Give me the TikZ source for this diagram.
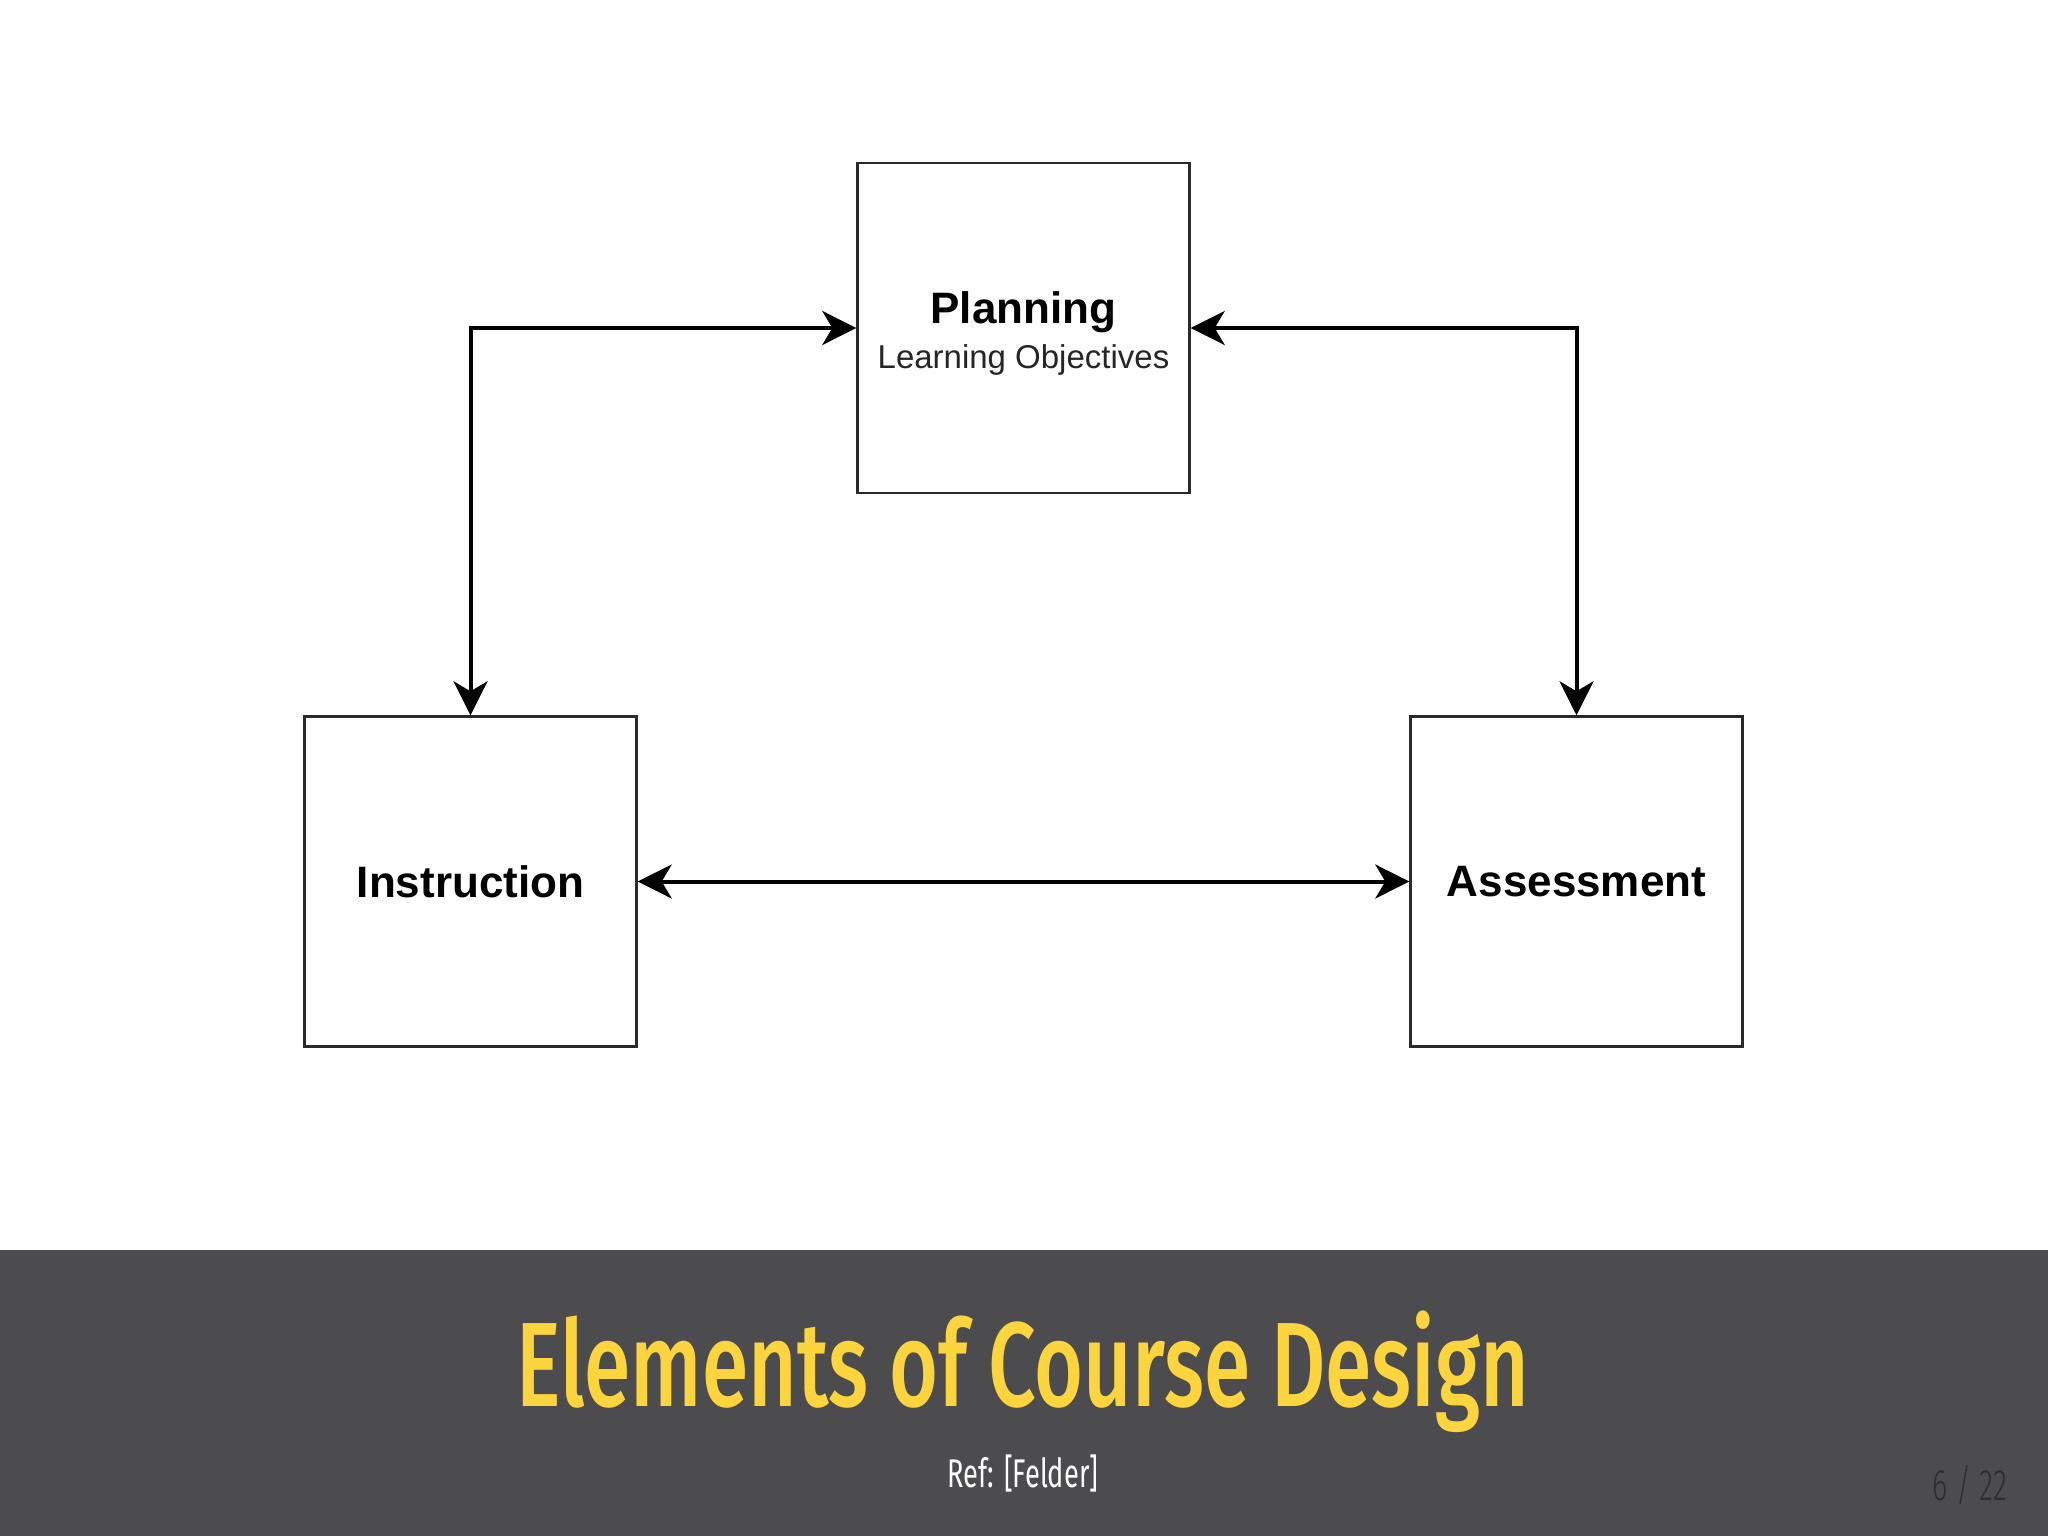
\documentclass[tikz,border=0pt]{standalone}
\usepackage{fontspec}
\setmainfont{Liberation Sans}
\newfontfamily\titlefont[FakeStretch=0.70]{Fira Sans Medium}
\newfontfamily\reffont[FakeStretch=0.68]{Fira Sans}
\newfontfamily\pagefont[FakeStretch=0.66]{Fira Sans Light}
\usetikzlibrary{arrows.meta}
\definecolor{bandgray}{HTML}{4C4B4D}
\definecolor{titleyellow}{HTML}{FCD43E}
\definecolor{pagegray}{HTML}{2E2E30}
\definecolor{boxline}{HTML}{2A2A2A}
\tikzset{
  box/.style={draw=boxline, line width=1.2pt, fill=white, minimum width=166pt, minimum height=165pt, inner sep=0pt, align=center},
  arr/.style={line width=2pt, black, {Stealth[length=17pt,width=17pt,inset=5pt]}-{Stealth[length=17pt,width=17pt,inset=5pt]}}
}
\begin{document}
\begin{tikzpicture}[x=0.5pt,y=-0.5pt]
\useasboundingbox (0,0) rectangle (2048,1536);
\fill[white] (0,0) rectangle (2048,1536);
\fill[bandgray] (0,1250) rectangle (2048,1536);
\node[box] (plan) at (1023.5,328) {{\fontsize{22pt}{26pt}\selectfont\rule{0pt}{21.5pt}\bfseries Planning}\\[5pt]{\fontsize{16.5pt}{19pt}\selectfont\color{black!85} Learning Objectives}};
\node[box] (instr) at (470.5,881.5) {\fontsize{22pt}{26pt}\selectfont\bfseries Instruction};
\node[box] (assess) at (1576.5,881.5) {\fontsize{22pt}{26pt}\selectfont\bfseries Assessment};
\draw[arr] (instr.north) |- (plan.west);
\draw[arr] (assess.north) |- (plan.east);
\draw[arr] (instr.east) -- (assess.west);
\node[anchor=base, text=titleyellow, inner sep=0pt] (title) at (1023,1406) {\titlefont\fontsize{60pt}{70pt}\selectfont Elements of Course Design};
\node[anchor=base, text=white, inner sep=0pt] (ref) at (1023,1487) {\reffont\fontsize{20pt}{24pt}\selectfont Ref: [Felder]};
\node[anchor=base, text=pagegray, inner sep=0pt] (page) at (1970,1500) {\pagefont\fontsize{22pt}{26pt}\selectfont 6 / 22};
\end{tikzpicture}
\end{document}
